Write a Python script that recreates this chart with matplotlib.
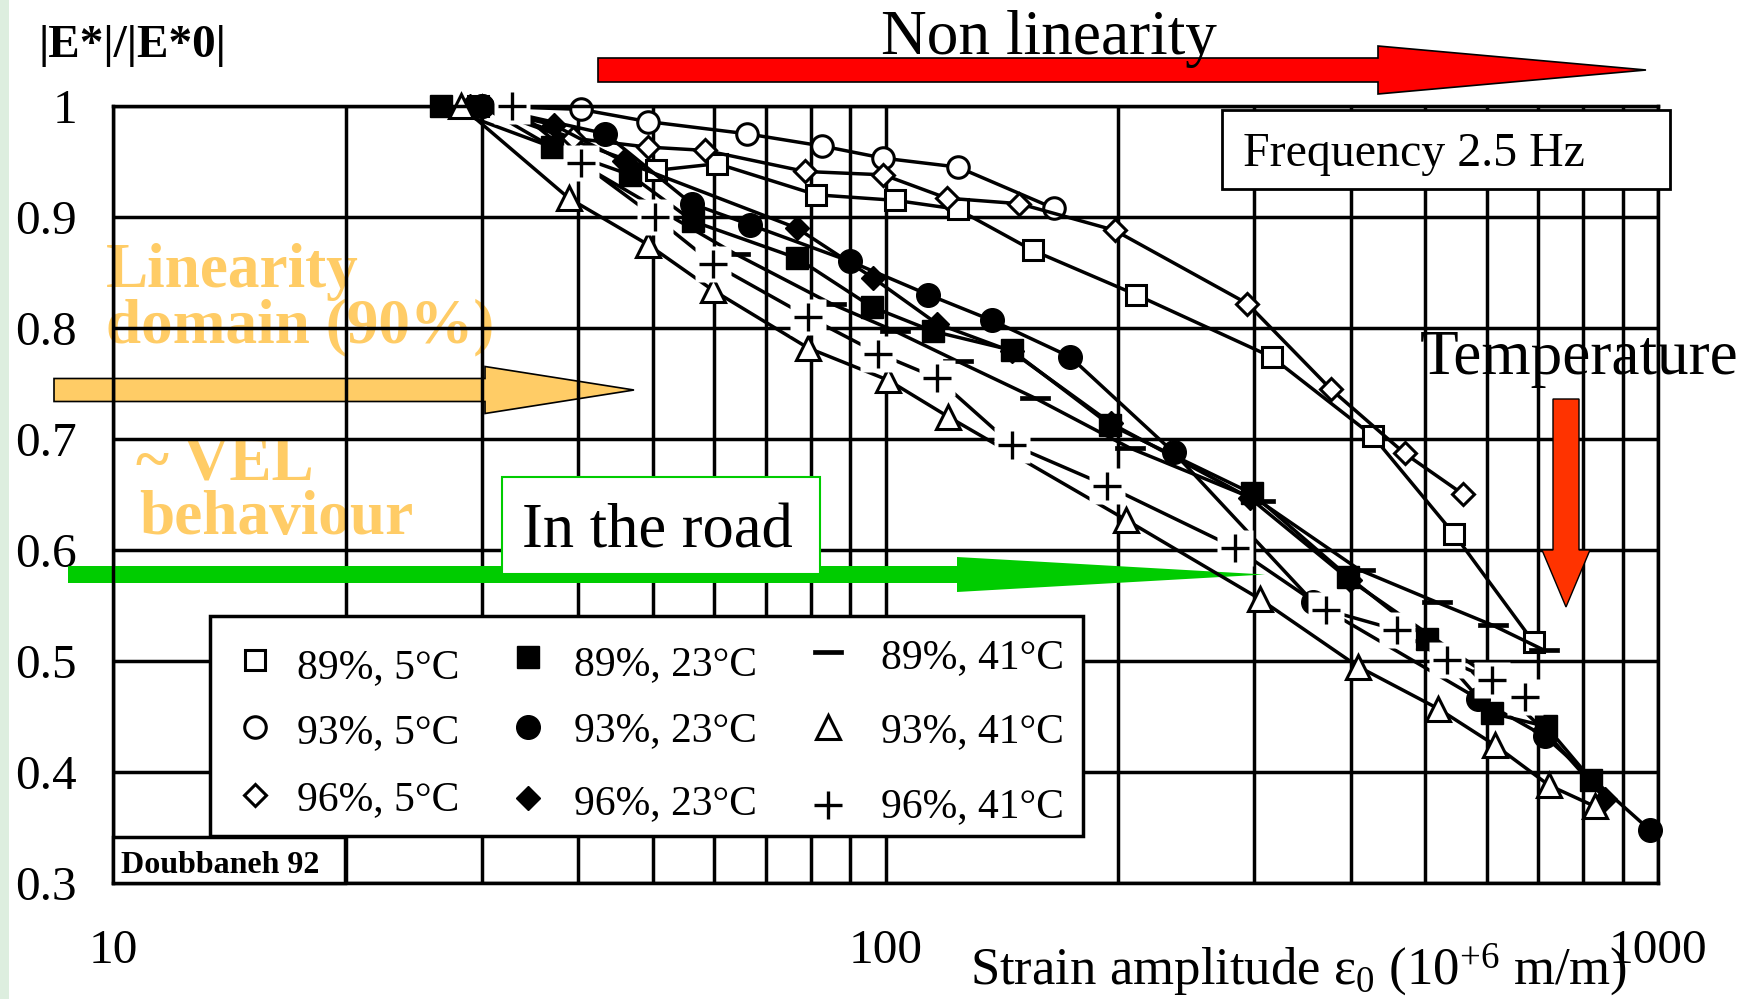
import numpy as np
import matplotlib
matplotlib.use('Agg')
import matplotlib.pyplot as plt
from matplotlib.patches import Polygon, Rectangle
from matplotlib.lines import Line2D
from matplotlib.ticker import LogLocator, NullFormatter

plt.rcParams['font.family'] = ['Liberation Serif', 'DejaVu Serif']
plt.rcParams['mathtext.fontset'] = 'custom'
plt.rcParams['mathtext.rm'] = 'Liberation Serif'
plt.rcParams['mathtext.it'] = 'Liberation Serif:italic'
plt.rcParams['mathtext.bf'] = 'Liberation Serif:bold'

# ---- data (strain amplitude, |E*|/|E*0|) ----
labels = ['89%, 5°C', '93%, 5°C', '96%, 5°C',
          '89%, 23°C', '93%, 23°C', '96%, 23°C',
          '89%, 41°C', '93%, 41°C', '96%, 41°C']

strain_89_5 = [29.7, 50.4, 60.6, 81.4, 103, 124, 155, 211, 316, 427, 545, 690]
ratio_89_5 = [1.0, 0.942, 0.948, 0.920, 0.915, 0.907, 0.870, 0.830, 0.774, 0.703, 0.614, 0.517]

strain_93_5 = [30, 40.3, 49.2, 66.1, 82.7, 99.4, 124, 165]
ratio_93_5 = [1.0, 0.997, 0.986, 0.975, 0.964, 0.953, 0.945, 0.908]

strain_96_5 = [30, 39.4, 49.2, 58.4, 78.7, 99.4, 120, 149, 198, 294, 377, 470, 560]
ratio_96_5 = [1.0, 0.971, 0.963, 0.960, 0.941, 0.938, 0.917, 0.912, 0.888, 0.822, 0.745, 0.687, 0.650]

strain_89_23 = [26.6, 37.0, 46.7, 56.4, 76.8, 96.0, 115.3, 145.6, 195, 298, 397, 502, 609, 717, 820]
ratio_89_23 = [1.0, 0.963, 0.938, 0.896, 0.863, 0.819, 0.797, 0.780, 0.713, 0.651, 0.576, 0.520, 0.453, 0.441, 0.393]

strain_93_23 = [30, 43.4, 56.1, 66.8, 90, 113.6, 137.2, 173.4, 236, 358, 585, 714, 975]
ratio_93_23 = [1.0, 0.975, 0.912, 0.893, 0.860, 0.830, 0.807, 0.774, 0.688, 0.553, 0.466, 0.432, 0.348]

strain_96_23 = [29, 37.2, 45.8, 76.8, 96.4, 116.5, 145.6, 196, 296, 399, 594, 711, 854]
ratio_96_23 = [1.0, 0.983, 0.950, 0.890, 0.845, 0.804, 0.779, 0.714, 0.647, 0.573, 0.490, 0.438, 0.376]

strain_89_41 = [30, 63.8, 85, 103, 124, 156, 207, 305, 411, 517, 612, 711]
ratio_89_41 = [1.0, 0.867, 0.822, 0.797, 0.770, 0.737, 0.692, 0.644, 0.582, 0.553, 0.532, 0.510]

strain_93_41 = [28.2, 38.9, 49.3, 59.8, 79.4, 100.8, 120.6, 205, 305, 409, 519.5, 615.6, 722.7, 828.5]
ratio_93_41 = [1.0, 0.917, 0.875, 0.834, 0.782, 0.753, 0.720, 0.627, 0.556, 0.495, 0.457, 0.424, 0.388, 0.369]

strain_96_41 = [32.8, 40.4, 50.3, 59.8, 79.4, 97.9, 116.5, 145.6, 193.3, 283.4, 372, 459, 532.6, 609.5, 673]
ratio_96_41 = [1.0, 0.949, 0.900, 0.858, 0.810, 0.777, 0.755, 0.695, 0.658, 0.602, 0.546, 0.528, 0.501, 0.483, 0.468]

xticks = [10, 100, 1000]
xticklabels = ['10', '100', '1000']
yticks = [0.3, 0.4, 0.5, 0.6, 0.7, 0.8, 0.9, 1.0]
yticklabels = ['0.3', '0.4', '0.5', '0.6', '0.7', '0.8', '0.9', '1']

series = [(strain_89_5, ratio_89_5), (strain_93_5, ratio_93_5), (strain_96_5, ratio_96_5),
          (strain_89_23, ratio_89_23), (strain_93_23, ratio_93_23), (strain_96_23, ratio_96_23),
          (strain_89_41, ratio_89_41), (strain_93_41, ratio_93_41), (strain_96_41, ratio_96_41)]

# ---- styles ----
DASH = [(-1, -0.14), (1, -0.14), (1, 0.14), (-1, 0.14), (-1, -0.14)]
styles = [
    dict(marker='s', ms=15, mfc='white', mec='black', mew=2.2),
    dict(marker='o', ms=15.5, mfc='white', mec='black', mew=2.2),
    dict(marker='D', ms=11.5, mfc='white', mec='black', mew=2.2),
    dict(marker='s', ms=16, mfc='black', mec='black', mew=1),
    dict(marker='o', ms=17, mfc='black', mec='black', mew=1),
    dict(marker='D', ms=12.5, mfc='black', mec='black', mew=1),
    dict(marker=DASH, ms=21, mfc='black', mec='black', mew=0.5),
    dict(marker='^', ms=17, mfc='white', mec='black', mew=2.2),
    dict(marker='+', ms=20, mfc='black', mec='black', mew=2.4),
]

W, H = 1753, 999
ORANGE = '#FFCC66'
GREEN = '#00CC00'
LW = 2.5


def fp(x, y):
    return (x / W, 1 - y / H)


def harrow(x0, x1, yc, bh, hh, hl):
    pts = [(x0, yc - bh), (x1 - hl, yc - bh), (x1 - hl, yc - hh), (x1, yc),
           (x1 - hl, yc + hh), (x1 - hl, yc + bh), (x0, yc + bh)]
    return [fp(*p) for p in pts]


def varrow(xc, y0, y1, bw, hw, hl):
    pts = [(xc - bw, y0), (xc + bw, y0), (xc + bw, y1 - hl), (xc + hw, y1 - hl),
           (xc, y1), (xc - hw, y1 - hl), (xc - bw, y1 - hl)]
    return [fp(*p) for p in pts]


def frect(x0, y0, x1, y1, **kw):
    return Rectangle((x0 / W, 1 - y1 / H), (x1 - x0) / W, (y1 - y0) / H, **kw)


fig = plt.figure(figsize=(W / 100, H / 100), dpi=100)
ax = fig.add_axes([113 / W, 1 - 883 / H, (1658 - 113) / W, (883 - 106) / H])
ax.set_facecolor('white')

# left pale strip
fig.add_artist(frect(0, 0, 9, H, facecolor='#DDEEDF', edgecolor='none'))

# ---- data ----
for i, ((xs, ys), st) in enumerate(zip(series, styles)):
    if i < 8:
        ax.plot(xs, ys, color='black', lw=LW, clip_on=False, zorder=2, **st)
    else:
        # plus markers sit on white squares that hide lines behind them
        ax.plot(xs, ys, color='black', lw=LW, clip_on=False, zorder=2)
        ax.plot(xs, ys, ls='none', marker='s', ms=26, mfc='white', mec='none',
                clip_on=False, zorder=2.6)
        ax.plot(xs, ys, ls='none', clip_on=False, zorder=2.7, **st)

ax.set_xscale('log')
ax.set_xlim(10, 1000)
ax.set_ylim(0.3, 1.0)
ax.set_xticks(xticks)
ax.set_xticklabels(xticklabels)
ax.xaxis.set_minor_locator(LogLocator(base=10, subs=np.arange(2, 10)))
ax.xaxis.set_minor_formatter(NullFormatter())
ax.set_yticks(yticks)
ax.set_yticklabels(yticklabels)
ax.tick_params(axis='both', which='both', length=0, labelsize=35.5)
ax.tick_params(axis='y', pad=26)
ax.tick_params(axis='x', pad=33)
ax.set_axisbelow(True)
ax.grid(True, which='major', color='black', lw=LW)
ax.grid(True, which='minor', axis='x', color='black', lw=LW)
for sp in ax.spines.values():
    sp.set_linewidth(LW)
    sp.set_color('black')

# ---- annotations behind the grid ----
ax.add_patch(Polygon(harrow(54, 634, 390, 11.5, 23.5, 149), closed=True,
                     facecolor=ORANGE, edgecolor='black', lw=1.2,
                     transform=fig.transFigure, clip_on=False, zorder=0.2))
for txt, x, y in [('Linearity', 106, 287), ('domain (90%)', 106, 342),
                  ('~ VEL', 136, 480), ('behaviour', 139, 534)]:
    ax.text(*fp(x, y), txt, transform=fig.transFigure, fontsize=45.5, fontweight='bold',
            color=ORANGE, ha='left', va='baseline', zorder=0.3, clip_on=False)
ax.text(*fp(1420, 374), 'Temperature', transform=fig.transFigure, fontsize=45.5,
        ha='left', va='baseline', zorder=0.3, clip_on=False)

# ---- annotations above the grid ----
ax.add_patch(Polygon(harrow(68, 1265, 574.5, 8.5, 17.5, 308), closed=True,
                     facecolor=GREEN, edgecolor='none',
                     transform=fig.transFigure, clip_on=False, zorder=1))
ax.add_patch(Polygon(varrow(1566, 399, 607, 13, 24, 57), closed=True,
                     facecolor='#FF3300', edgecolor='black', lw=1,
                     transform=fig.transFigure, clip_on=False, zorder=1.5))
ax.add_patch(frect(502, 477, 820, 574, facecolor='white', edgecolor=GREEN, lw=1.5,
                   transform=fig.transFigure, clip_on=False, zorder=1.8))
ax.text(*fp(522, 547), 'In the road', transform=fig.transFigure, fontsize=45,
        ha='left', va='baseline', zorder=1.9, clip_on=False)

# top red arrow and its text
fig.add_artist(Polygon(harrow(598, 1646, 70, 12, 24, 268), closed=True,
                       facecolor='#FF0000', edgecolor='black', lw=1.2,
                       transform=fig.transFigure))
fig.text(*fp(1049, 54), 'Non linearity', fontsize=45.5, ha='center', va='baseline')

# frequency box
fig.add_artist(frect(1222, 110, 1670, 189, facecolor='white', edgecolor='black', lw=2,
                     transform=fig.transFigure))
fig.text(*fp(1243, 166), 'Frequency 2.5 Hz', fontsize=34.5, ha='left', va='baseline')

# axis labels
fig.text(*fp(39, 57), '|E*|/|E*0|', fontsize=34, fontweight='bold', ha='left', va='baseline')
fig.text(*fp(970, 984), 'Strain amplitude ε$_0$ (10$^{+6}$ m/m)', fontsize=38,
         ha='left', va='baseline')

# Doubbaneh box
fig.add_artist(frect(113, 837, 345, 883, facecolor='white', edgecolor='black', lw=LW,
                     transform=fig.transFigure))
fig.text(*fp(121, 873), 'Doubbaneh 92', fontsize=23, fontweight='bold', ha='left', va='baseline')

# ---- legend ----
fig.add_artist(frect(210, 616, 1083, 836, facecolor='white', edgecolor='black', lw=LW,
                     transform=fig.transFigure))
mark_x = [254.5, 527.7, 827.7]
text_x = [297, 573.7, 881]
mark_y = [[660, 727, 795], [657, 727, 798], [652, 727, 805]]
base_y = [[678, 743, 810], [675, 741, 814], [668, 742, 817]]
for k, (lab, st) in enumerate(zip(labels, styles)):
    c, r = k // 3, k % 3
    fig.add_artist(Line2D([mark_x[c] / W], [1 - mark_y[c][r] / H], ls='none',
                          transform=fig.transFigure, **st))
    fig.text(*fp(text_x[c], base_y[c][r]), lab, fontsize=30, ha='left', va='baseline')

fig.savefig('out.png', dpi=100)
